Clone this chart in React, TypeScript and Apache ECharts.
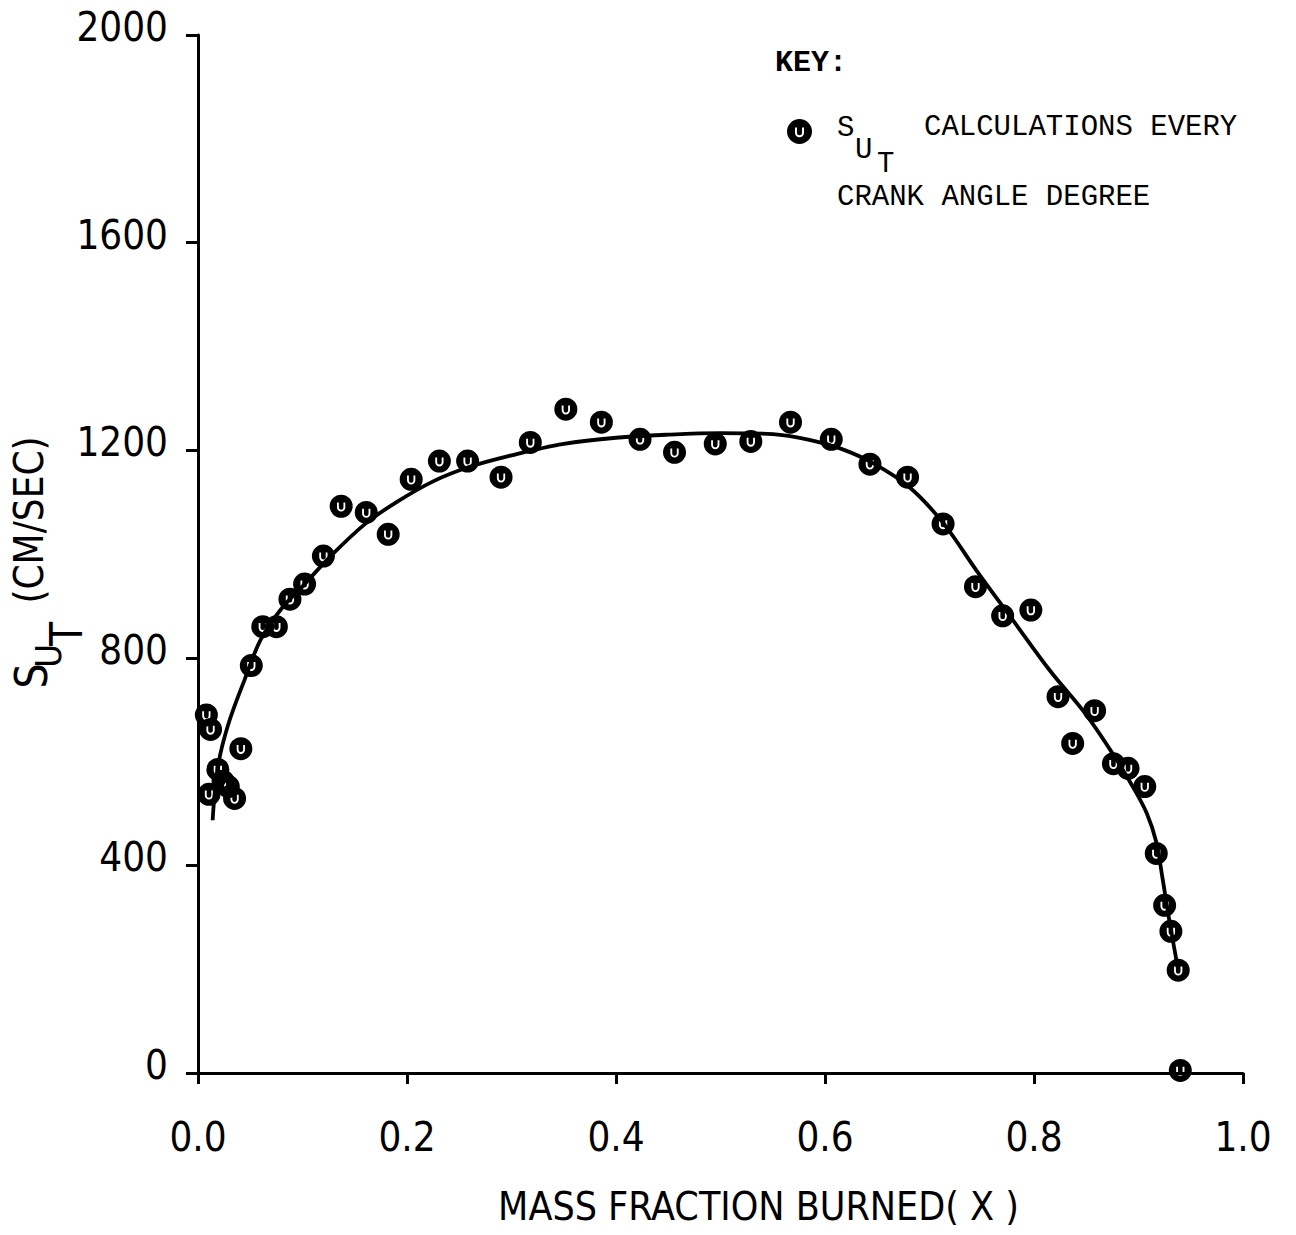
import React, { useEffect, useRef } from "react";
import * as echarts from "echarts";

// Scatter: S_UT calculations every crank angle degree
const pointX = [0.008, 0.012, 0.0105, 0.019, 0.024, 0.029, 0.035, 0.041, 0.051, 0.062, 0.075, 0.088, 0.102, 0.120, 0.137, 0.161, 0.182, 0.204, 0.231, 0.258, 0.290, 0.318, 0.352, 0.386, 0.423, 0.456, 0.495, 0.529, 0.567, 0.606, 0.643, 0.679, 0.713, 0.744, 0.770, 0.797, 0.823, 0.837, 0.858, 0.876, 0.890, 0.906, 0.917, 0.925, 0.931, 0.938, 0.940];
const pointY = [690, 662, 537, 585, 562, 552, 529, 625, 785, 860, 860, 913, 942, 996, 1092, 1080, 1038, 1144, 1179, 1179, 1148, 1215, 1279, 1254, 1221, 1196, 1212, 1217, 1254, 1221, 1173, 1148, 1058, 937, 881, 892, 725, 635, 698, 596, 587, 552, 423, 323, 273, 198, 5];

// Fitted curve
const curveX = [0.014, 0.019, 0.029, 0.045, 0.060, 0.080, 0.102, 0.127, 0.160, 0.190, 0.225, 0.260, 0.300, 0.350, 0.400, 0.450, 0.500, 0.550, 0.585, 0.615, 0.645, 0.680, 0.713, 0.745, 0.780, 0.815, 0.850, 0.877, 0.895, 0.908, 0.917, 0.923, 0.929, 0.938];
const curveY = [487, 590, 672, 760, 835, 895, 942, 996, 1058, 1100, 1140, 1168, 1190, 1212, 1224, 1230, 1233, 1231, 1220, 1203, 1176, 1130, 1060, 968, 872, 776, 690, 610, 550, 500, 445, 375, 300, 198];

const yTicks = [0, 400, 800, 1200, 1600, 2000];
const xTicks = [0, 0.2, 0.4, 0.6, 0.8, 1.0];

const NARROW = "'Liberation Sans Narrow', 'DejaVu Sans Condensed', sans-serif";
const MONO = "'Liberation Mono', 'DejaVu Sans Mono', monospace";

// black disc with a white "U" hole
const MARK =
  "path://M50,0 A50,50 0 1,1 50,100 A50,50 0 1,1 50,0 Z M32,34 L32,55 A18,18 0 0,0 68,55 L68,34 L60,34 L60,55 A10,10 0 0,1 40,55 L40,34 Z";

export default function App() {
  const ref = useRef<HTMLDivElement>(null);
  useEffect(() => {
    if (!ref.current) return;
    const chart = echarts.init(ref.current, null, { renderer: "svg" });
    const pts = pointX.map((x, i) => [x, pointY[i]]);
    const curve = curveX.map((x, i) => [x, curveY[i]]);
    chart.setOption({
      animation: false,
      backgroundColor: "#fff",
      grid: { left: 198, top: 35, width: 1045, height: 1038, outerBoundsMode: "none", containLabel: false },
      xAxis: {
        type: "value",
        min: xTicks[0],
        max: xTicks[xTicks.length - 1],
        interval: 0.2,
        name: "MASS FRACTION BURNED( X )",
        nameLocation: "middle",
        nameGap: 114,
        nameTextStyle: { fontFamily: NARROW, fontSize: 39, color: "#000", padding: [0, 0, 0, 76] },
        axisLine: { lineStyle: { color: "#000", width: 3 } },
        axisTick: { length: 11, lineStyle: { color: "#000", width: 3 } },
        axisLabel: {
          fontFamily: NARROW,
          fontSize: 40,
          color: "#000",
          margin: 44,
          formatter: (v: number) => v.toFixed(1),
        },
        splitLine: { show: false },
      },
      yAxis: {
        type: "value",
        min: yTicks[0],
        max: yTicks[yTicks.length - 1],
        interval: 400,
        axisLine: { lineStyle: { color: "#000", width: 3 } },
        axisTick: { length: 12, lineStyle: { color: "#000", width: 3 } },
        axisLabel: {
          fontFamily: NARROW,
          fontSize: 40,
          color: "#000",
          margin: 30,
          verticalAlign: "bottom",
          lineHeight: 16,
          formatter: (v: number) => String(v),
        },
        splitLine: { show: false },
      },
      legend: {
        left: 782,
        top: 114,
        itemWidth: 25,
        itemHeight: 25,
        itemGap: 0,
        data: [{ name: "SUT", icon: MARK }],
        formatter: () => " ",
        textStyle: { fontSize: 2 },
        selectedMode: false,
        itemStyle: { color: "#000", opacity: 1 },
      },
      series: [
        {
          type: "line",
          name: "curve",
          data: curve,
          smooth: 0.35,
          showSymbol: false,
          lineStyle: { color: "#000", width: 3.8 },
          z: 2,
        },
        {
          type: "scatter",
          name: "SUT",
          data: pts,
          symbol: MARK,
          symbolSize: 23,
          itemStyle: { color: "#000", opacity: 1 },
          z: 3,
        },
      ],
      graphic: [
        { type: "text", x: 29, y: 520, rotation: Math.PI / 2, style: { text: "(CM/SEC)", font: `40px ${NARROW}`, fill: "#000", align: "center", verticalAlign: "middle" } },
        { type: "text", x: 31, y: 676, rotation: Math.PI / 2, style: { text: "S", font: `44px ${NARROW}`, fill: "#000", align: "center", verticalAlign: "middle" } },
        { type: "text", x: 48, y: 656, rotation: Math.PI / 2, style: { text: "U", font: `36px ${NARROW}`, fill: "#000", align: "center", verticalAlign: "middle" } },
        { type: "text", x: 66, y: 634, rotation: Math.PI / 2, style: { text: "T", font: `44px ${NARROW}`, fill: "#000", align: "center", verticalAlign: "middle" } },
        { type: "text", x: 775, y: 63, style: { text: "KEY:", font: `bold 30px ${MONO}`, fill: "#000", align: "left", verticalAlign: "middle" } },
        { type: "text", x: 837, y: 128, style: { text: "S", font: `29px ${MONO}`, fill: "#000", align: "left", verticalAlign: "middle" } },
        { type: "text", x: 855, y: 150, style: { text: "U", font: `29px ${MONO}`, fill: "#000", align: "left", verticalAlign: "middle" } },
        { type: "text", x: 877, y: 164, style: { text: "T", font: `29px ${MONO}`, fill: "#000", align: "left", verticalAlign: "middle" } },
        { type: "text", x: 924, y: 127, style: { text: "CALCULATIONS EVERY", font: `29px ${MONO}`, fill: "#000", align: "left", verticalAlign: "middle" } },
        { type: "text", x: 837, y: 197, style: { text: "CRANK ANGLE DEGREE", font: `29px ${MONO}`, fill: "#000", align: "left", verticalAlign: "middle" } },
      ],
    });
    return () => chart.dispose();
  }, []);
  return (
    <div
      ref={ref}
      style={{ position: "absolute", left: 0, top: 0, width: 1296, height: 1235 }}
    />
  );
}
